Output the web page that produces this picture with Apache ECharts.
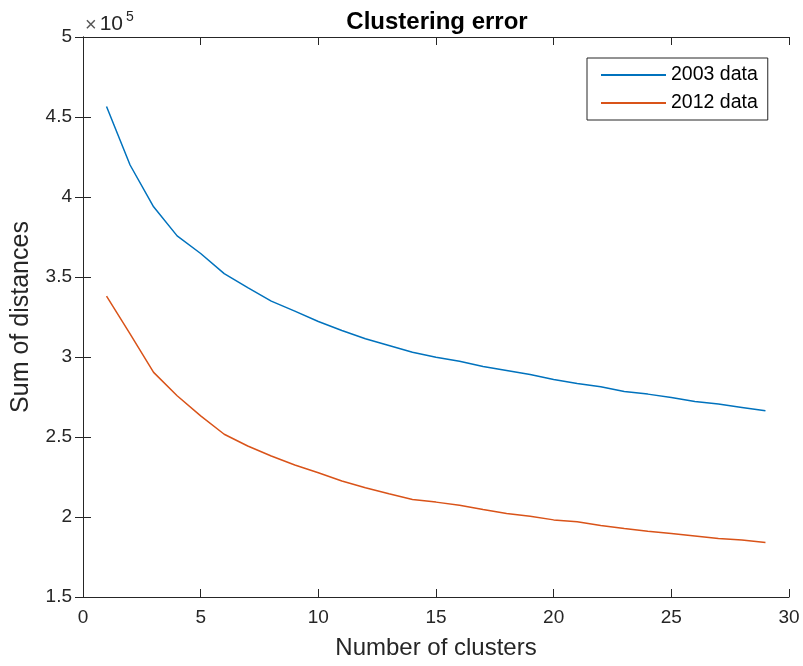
<!DOCTYPE html>
<html><head><meta charset="utf-8">
<script src="https://cdn.jsdelivr.net/npm/echarts@6/dist/echarts.min.js"></script>
<style>html,body{margin:0;padding:0;background:#fff}#c{width:803px;height:666px}</style>
</head><body><div id="c"></div>
<script>
const clusters = [1,2,3,4,5,6,7,8,9,10,11,12,13,14,15,16,17,18,19,20,21,22,23,24,25,26,27,28,29];
const data2003 = [4.566,4.20,3.939,3.757,3.647,3.521,3.433,3.349,3.287,3.222,3.166,3.114,3.072,3.030,2.998,2.973,2.940,2.915,2.890,2.860,2.835,2.814,2.785,2.768,2.747,2.722,2.706,2.685,2.664];
const data2012 = [3.381,3.145,2.904,2.758,2.632,2.517,2.444,2.381,2.325,2.277,2.225,2.183,2.145,2.110,2.093,2.074,2.047,2.022,2.005,1.982,1.970,1.947,1.928,1.911,1.897,1.881,1.865,1.856,1.840];
const yTicks = [1.5,2,2.5,3,3.5,4,4.5,5];
const scale = 1e5;

const font = 'Helvetica, Arial, "Liberation Sans", sans-serif';
const axisCol = '#262626';
const chart = echarts.init(document.getElementById('c'));
const tickStyle = {show:true, inside:true, length:8, lineStyle:{color:axisCol, width:1}};
chart.setOption({
  animation:false,
  title:{text:'Clustering error', left:432, top:5, textAlign:'center',
    textStyle:{fontFamily:font, fontSize:24, fontWeight:'bold', color:'#000'}},
  legend:{orient:'vertical', left:587, top:58, padding:[6,10,6,14], itemWidth:65, itemHeight:2, itemGap:6,
    icon:'rect',
    borderColor:axisCol, borderWidth:1, backgroundColor:'#fff',
    textStyle:{fontFamily:font, fontSize:19.5, lineHeight:22, color:'#000'},
    data:['2003 data','2012 data']},
  graphic:[{type:'text', left:85, top:10, style:{
    text:'{a|×}{c|10}{b|5}', rich:{
      a:{fontFamily:font,fontSize:20,fill:'#555',padding:[5,3,0,0]},
      c:{fontFamily:font,fontSize:21,fill:axisCol,padding:[4,0,0,0]},
      b:{fontFamily:font,fontSize:14,fill:axisCol,verticalAlign:'top',padding:[0,0,0,3]}}}}],
  grid:{left:83, right:14, top:37, bottom:69, containLabel:false},
  xAxis:[{type:'value', min:0, max:30, interval:5, position:'bottom',
    name:'Number of clusters', nameLocation:'middle', nameGap:39,
    nameTextStyle:{fontFamily:font, fontSize:24, color:axisCol},
    axisLine:{show:true, lineStyle:{color:axisCol}}, axisTick:tickStyle,
    axisLabel:{fontFamily:font, fontSize:19, color:axisCol, margin:11},
    splitLine:{show:false}},
   {type:'value', min:0, max:30, interval:5, position:'top',
    axisLine:{show:true, lineStyle:{color:axisCol}}, axisTick:tickStyle,
    axisLabel:{show:false}, splitLine:{show:false}}],
  yAxis:[{type:'value', min:yTicks[0]*scale, max:yTicks[yTicks.length-1]*scale, interval:0.5*scale, position:'left',
    name:'Sum of distances', nameLocation:'middle', nameGap:49,
    nameTextStyle:{fontFamily:font, fontSize:25, color:axisCol},
    axisLine:{show:true, lineStyle:{color:axisCol}}, axisTick:tickStyle,
    axisLabel:{fontFamily:font, fontSize:19, color:axisCol, margin:11, formatter:v=>String(+(v/scale).toFixed(1))},
    splitLine:{show:false}},
   {type:'value', min:yTicks[0]*scale, max:yTicks[yTicks.length-1]*scale, interval:0.5*scale, position:'right',
    axisLine:{show:true, lineStyle:{color:axisCol}}, axisTick:tickStyle,
    axisLabel:{show:false}, splitLine:{show:false}}],
  series:[
    {name:'2003 data', type:'line', symbol:'none', color:'#0072BD', lineStyle:{width:1.5},
     data:clusters.map((c,i)=>[c, data2003[i]*scale])},
    {name:'2012 data', type:'line', symbol:'none', color:'#D95319', lineStyle:{width:1.5},
     data:clusters.map((c,i)=>[c, data2012[i]*scale])}
  ]
});
</script></body></html>
